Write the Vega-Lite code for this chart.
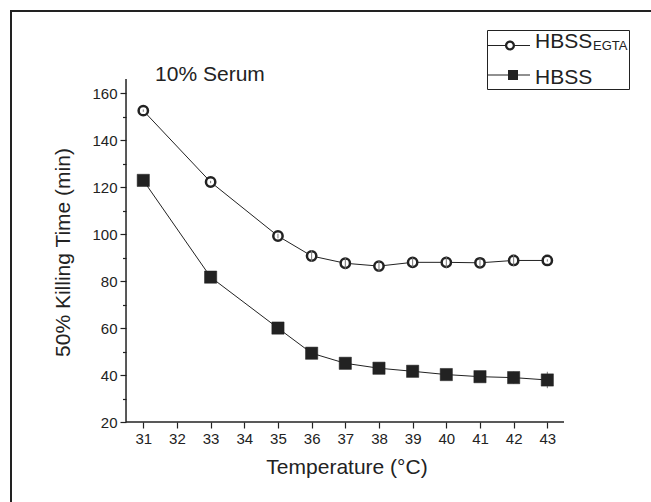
{
  "$schema": "https://vega.github.io/schema/vega-lite/v6.json",
  "width": 645,
  "height": 496,
  "autosize": {"type": "none"},
  "padding": {"left": 11, "top": 11, "right": -5, "bottom": -5},
  "background": "white",
  "config": {
    "font": "Liberation Sans",
    "view": {"stroke": "#222", "strokeWidth": 2},
    "axis": {
      "grid": false, "domain": false, "tickColor": "#222", "tickWidth": 1.2,
      "labelColor": "#222", "titleColor": "#222", "labelFontSize": 15, "titleFontSize": 21,
      "titleFontWeight": "normal", "labelFont": "Liberation Sans", "titleFont": "Liberation Sans",
      "labelFlush": false, "labelOverlap": false, "labelBound": false
    }
  },
  "datasets": {
    "pts": [
      {"series": "HBSS EGTA", "temp": 31, "time": 152.6, "lo": 152.1, "hi": 153.1},
      {"series": "HBSS EGTA", "temp": 33, "time": 122.2, "lo": 121.7, "hi": 122.7},
      {"series": "HBSS EGTA", "temp": 35, "time": 99.2, "lo": 98.2, "hi": 100.2},
      {"series": "HBSS EGTA", "temp": 36, "time": 90.7, "lo": 88.2, "hi": 93.2},
      {"series": "HBSS EGTA", "temp": 37, "time": 87.6, "lo": 85.1, "hi": 90.1},
      {"series": "HBSS EGTA", "temp": 38, "time": 86.4, "lo": 83.9, "hi": 88.9},
      {"series": "HBSS EGTA", "temp": 39, "time": 88.0, "lo": 86.0, "hi": 90.0},
      {"series": "HBSS EGTA", "temp": 40, "time": 88.0, "lo": 85.5, "hi": 90.5},
      {"series": "HBSS EGTA", "temp": 41, "time": 87.8, "lo": 85.8, "hi": 89.8},
      {"series": "HBSS EGTA", "temp": 42, "time": 88.8, "lo": 86.3, "hi": 91.3},
      {"series": "HBSS EGTA", "temp": 43, "time": 88.8, "lo": 88.3, "hi": 89.3},
      {"series": "HBSS", "temp": 31, "time": 122.9, "lo": 122.4, "hi": 123.4},
      {"series": "HBSS", "temp": 33, "time": 81.7, "lo": 81.0, "hi": 82.4},
      {"series": "HBSS", "temp": 35, "time": 60.0, "lo": 59.0, "hi": 61.0},
      {"series": "HBSS", "temp": 36, "time": 49.3, "lo": 48.0, "hi": 50.6},
      {"series": "HBSS", "temp": 37, "time": 45.0, "lo": 43.5, "hi": 46.5},
      {"series": "HBSS", "temp": 38, "time": 42.9, "lo": 41.4, "hi": 44.4},
      {"series": "HBSS", "temp": 39, "time": 41.6, "lo": 40.1, "hi": 43.1},
      {"series": "HBSS", "temp": 40, "time": 40.2, "lo": 38.7, "hi": 41.7},
      {"series": "HBSS", "temp": 41, "time": 39.3, "lo": 37.3, "hi": 41.3},
      {"series": "HBSS", "temp": 42, "time": 38.9, "lo": 36.4, "hi": 41.4},
      {"series": "HBSS", "temp": 43, "time": 37.9, "lo": 34.4, "hi": 41.4}
    ]
  },
  "data": {"name": "pts"},
  "resolve": {"axis": {"x": "independent", "y": "independent"}},
  "layer": [
    {
      "data": {"values": [{}]},
      "mark": {"type": "rule", "color": "#222", "strokeWidth": 1.5},
      "encoding": {
        "x": {"datum": 30.487, "type": "quantitative", "scale": {"domain": [27.071, 46.228], "nice": false, "zero": false}, "axis": null},
        "y": {"datum": 20, "type": "quantitative", "scale": {"domain": [-16.2, 195.04], "nice": false, "zero": false}, "axis": null},
        "y2": {"datum": 166.08}
      }
    },
    {
      "data": {"values": [{}]},
      "mark": {"type": "rule", "color": "#222", "strokeWidth": 1.5},
      "encoding": {
        "x": {"datum": 30.487, "type": "quantitative", "scale": {"domain": [27.071, 46.228], "nice": false, "zero": false}, "axis": null},
        "x2": {"datum": 43.496},
        "y": {"datum": 20, "type": "quantitative", "scale": {"domain": [-16.2, 195.04], "nice": false, "zero": false}, "axis": null}
      }
    },
    {
      "mark": {"type": "line", "color": "#222", "strokeWidth": 1},
      "encoding": {
        "x": {
          "field": "temp", "type": "quantitative",
          "scale": {"domain": [27.071, 46.228], "nice": false, "zero": false},
          "axis": {
            "orient": "bottom", "offset": -85, "values": [31, 32, 33, 34, 35, 36, 37, 38, 39, 40, 41, 42, 43],
            "title": "Temperature (°C)", "tickSize": 6, "labelPadding": 3, "titlePadding": 10, "titleX": 335.5
          }
        },
        "y": {
          "field": "time", "type": "quantitative",
          "scale": {"domain": [-16.2, 195.04], "nice": false, "zero": false},
          "axis": {
            "orient": "left", "offset": -115, "values": [20, 40, 60, 80, 100, 120, 140, 160],
            "title": "50% Killing Time (min)", "tickSize": 6, "labelPadding": 3, "titlePadding": 18, "titleY": 241
          }
        },
        "detail": {"field": "series"}
      }
    },
    {
      "transform": [{"filter": "datum.series === 'HBSS EGTA'"}],
      "mark": {"type": "point", "shape": "circle", "filled": true, "fill": "white", "stroke": "#222", "strokeWidth": 2.5, "size": 87, "opacity": 1},
      "encoding": {
        "x": {"field": "temp", "type": "quantitative", "scale": {"domain": [27.071, 46.228], "nice": false, "zero": false}, "axis": null},
        "y": {"field": "time", "type": "quantitative", "scale": {"domain": [-16.2, 195.04], "nice": false, "zero": false}, "axis": null}
      }
    },
    {
      "mark": {"type": "rule", "color": "#777", "strokeWidth": 1},
      "encoding": {
        "x": {"field": "temp", "type": "quantitative", "scale": {"domain": [27.071, 46.228], "nice": false, "zero": false}, "axis": null},
        "y": {
          "field": "lo", "type": "quantitative",
          "scale": {"domain": [-16.2, 195.04], "nice": false, "zero": false},
          "axis": {"orient": "left", "offset": -115, "values": [30, 50, 70, 90, 110, 130, 150], "labels": false, "title": null, "tickSize": 3.5}
        },
        "y2": {"field": "hi"}
      }
    },
    {
      "transform": [{"filter": "datum.series === 'HBSS'"}],
      "mark": {"type": "point", "shape": "square", "filled": true, "fill": "#222", "stroke": "#222", "strokeWidth": 0.5, "size": 150, "opacity": 1},
      "encoding": {
        "x": {"field": "temp", "type": "quantitative", "scale": {"domain": [27.071, 46.228], "nice": false, "zero": false}, "axis": null},
        "y": {"field": "time", "type": "quantitative", "scale": {"domain": [-16.2, 195.04], "nice": false, "zero": false}, "axis": null}
      }
    },
    {
      "mark": {"type": "point", "filled": true, "fill": "#222", "stroke": "#222", "strokeWidth": 1, "size": 0},
      "encoding": {
        "x": {"field": "temp", "type": "quantitative", "scale": {"domain": [27.071, 46.228], "nice": false, "zero": false}, "axis": null},
        "y": {"field": "time", "type": "quantitative", "scale": {"domain": [-16.2, 195.04], "nice": false, "zero": false}, "axis": null},
        "shape": {
          "field": "series", "type": "nominal",
          "scale": {
            "domain": ["HBSS EGTA", "HBSS"],
            "range": [
              "M-4.4,0.7H-0.95V0.9H-4.4ZM0.95,0.7H4V0.9H0.95ZM-1,0.8A1,1 0 1,1 1,0.8A1,1 0 1,1 -1,0.8ZM-0.55,0.8A0.55,0.55 0 1,0 0.55,0.8A0.55,0.55 0 1,0 -0.55,0.8Z",
              "M-4.4,-0.6H-0.4V-0.4H-4.4ZM1.6,-0.6H4V-0.4H1.6ZM-0.4,-1.5H1.6V0.5H-0.4Z"
            ]
          },
          "legend": {
            "orient": "none", "legendX": 476, "legendY": 19, "direction": "vertical",
            "title": "EGTA", "titleOrient": "right", "titlePadding": 1, "titleFontSize": 13,
            "titleFontWeight": "normal", "titleColor": "#222", "titleFont": "Liberation Sans",
            "titleAnchor": "start", "titleBaseline": "line-top", "titleLineHeight": 31,
            "padding": 1, "strokeColor": "#222",
            "symbolSize": 100, "symbolStrokeWidth": 0, "symbolOffset": 11.5,
            "symbolFillColor": "#222", "symbolStrokeColor": "#222", "symbolOpacity": 1,
            "labelFontSize": 21, "labelOffset": 14.5, "labelColor": "#222", "labelLimit": 300,
            "rowPadding": 14,
            "labelExpr": "'HBSS'"
          }
        }
      }
    },
    {
      "data": {"values": [{}]},
      "mark": {"type": "text", "text": "10% Serum", "fontSize": 21, "align": "center", "baseline": "alphabetic", "color": "#222", "font": "Liberation Sans"},
      "encoding": {
        "x": {"datum": 32.98, "type": "quantitative", "scale": {"domain": [27.071, 46.228], "nice": false, "zero": false}, "axis": null},
        "y": {"datum": 165.3, "type": "quantitative", "scale": {"domain": [-16.2, 195.04], "nice": false, "zero": false}, "axis": null}
      }
    }
  ]
}
